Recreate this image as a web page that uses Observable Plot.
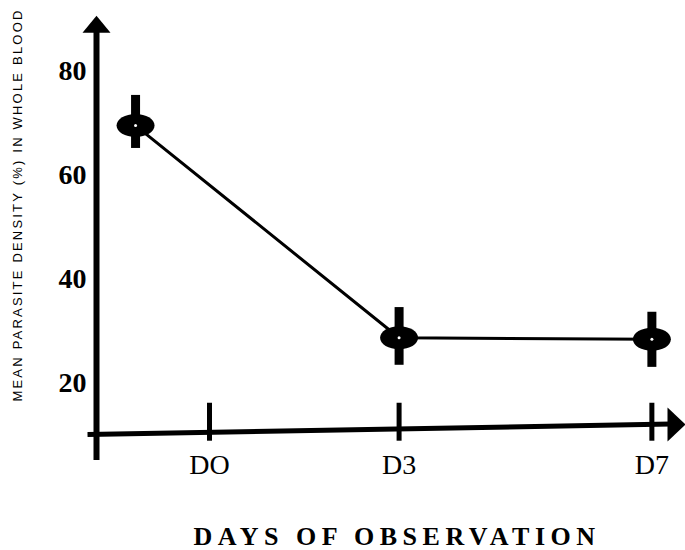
<!DOCTYPE html>
<html>
<head>
<meta charset="utf-8">
<script src="https://cdn.jsdelivr.net/npm/d3@7"></script>
<script src="https://cdn.jsdelivr.net/npm/@observablehq/plot@0.6"></script>
<style>
  html, body { margin: 0; padding: 0; background: #fff; }
</style>
</head>
<body>
<div id="chart"></div>
<script>
// ---- data ----
const dayLabels = ["DO", "D3", "D7"];
const dayTicks = [0, 3, 7];
const pointDays = [-1.17, 3, 7];
const meanDensity = [69.6, 28.8, 28.5];
const errLow = [65.2, 23.5, 23.1];
const errHigh = [75.4, 34.6, 33.7];
const yTicks = [20, 40, 60, 80];
const yTitle = "MEAN PARASITE DENSITY (%) IN WHOLE BLOOD";
const xTitle = "DAYS OF OBSERVATION";

const data = pointDays.map((d, i) => ({day: d, mean: meanDensity[i], low: errLow[i], high: errHigh[i]}));
const ticks = dayTicks.map((d, i) => ({day: d, label: dayLabels[i]}));

// ---- custom symbols ----
const ellipse = {
  draw(ctx) {
    const rx = 19, ry = 11.5, k = 0.5523;
    ctx.moveTo(rx, 0);
    ctx.bezierCurveTo(rx, ry * k, rx * k, ry, 0, ry);
    ctx.bezierCurveTo(-rx * k, ry, -rx, ry * k, -rx, 0);
    ctx.bezierCurveTo(-rx, -ry * k, -rx * k, -ry, 0, -ry);
    ctx.bezierCurveTo(rx * k, -ry, rx, -ry * k, rx, 0);
    ctx.closePath();
  }
};
const arrowUp = {
  draw(ctx) { ctx.moveTo(0, -8.5); ctx.lineTo(14, 8.5); ctx.lineTo(-14, 8.5); ctx.closePath(); }
};
const arrowRight = {
  draw(ctx) { ctx.moveTo(9, 0); ctx.lineTo(-9, 17); ctx.lineTo(-9, -17); ctx.closePath(); }
};

const xMin = -1.788, xMax = 7.532;
const yMin = 5.19, yMax = 90.77;

const chart = Plot.plot({
  width: 685,
  height: 550,
  marginLeft: 96,
  marginRight: 0,
  marginTop: 15,
  marginBottom: 90,
  style: {fontFamily: "Liberation Serif", background: "#fff", color: "#000"},
  x: {domain: [xMin, xMax], axis: null},
  y: {domain: [yMin, yMax], axis: null},
  marks: [
    // y axis line + arrow head
    Plot.ruleX([xMin], {y1: yMin, y2: 88, stroke: "#000", strokeWidth: 6}),
    Plot.dot([0], {x: () => xMin, y: () => 89.1, symbol: arrowUp, fill: "#000", stroke: "none"}),
    // x axis line + arrow head
    Plot.link([0], {x1: () => -1.93, y1: () => 10.2, x2: () => 7.3, y2: () => 12.2, stroke: "#000", strokeWidth: 5}),
    Plot.dot([0], {x: () => 7.39, y: () => 12.1, symbol: arrowRight, fill: "#000", stroke: "none"}),
    // x ticks
    Plot.ruleX(ticks, {x: "day", y1: () => 8.9, y2: () => 16.2, stroke: "#000", strokeWidth: 5}),
    // x tick labels
    Plot.text(ticks, {x: "day", text: "label", frameAnchor: "bottom", lineAnchor: "middle", dy: 5, fontSize: 28, fontFamily: "Liberation Serif"}),
    // y tick labels
    Plot.axisY({ticks: yTicks, tickSize: 0, tickPadding: 10, fontSize: 28, fontWeight: "bold", fontFamily: "Liberation Serif", label: null}),
    // y title
    Plot.text([yTitle], {frameAnchor: "left", textAnchor: "middle", lineAnchor: "middle", dx: -79, dy: -33, rotate: -90, fontSize: 13, fontFamily: "Liberation Sans"}),
    // x title
    Plot.text([xTitle], {frameAnchor: "bottom", textAnchor: "middle", lineAnchor: "middle", dy: 76, dx: 6, fontSize: 26, fontWeight: "bold", fontFamily: "Liberation Serif"}),
    // data line
    Plot.line(data, {x: "day", y: "mean", stroke: "#000", strokeWidth: 3}),
    // error bars
    Plot.ruleX(data, {x: "day", y1: "low", y2: "high", stroke: "#000", strokeWidth: 9}),
    // markers
    Plot.dot(data, {x: "day", y: "mean", symbol: ellipse, fill: "#000", stroke: "none"}),
    Plot.dot(data, {x: "day", y: "mean", r: 1.5, fill: "#fff", stroke: "none"})
  ]
});
d3.select(chart).selectAll("text")
  .filter(function () { return this.textContent === xTitle; })
  .style("letter-spacing", "5.5px");
d3.select(chart).selectAll("text")
  .filter(function () { return this.textContent === yTitle; })
  .style("letter-spacing", "2.2px");
document.getElementById("chart").appendChild(chart);
</script>
</body>
</html>
